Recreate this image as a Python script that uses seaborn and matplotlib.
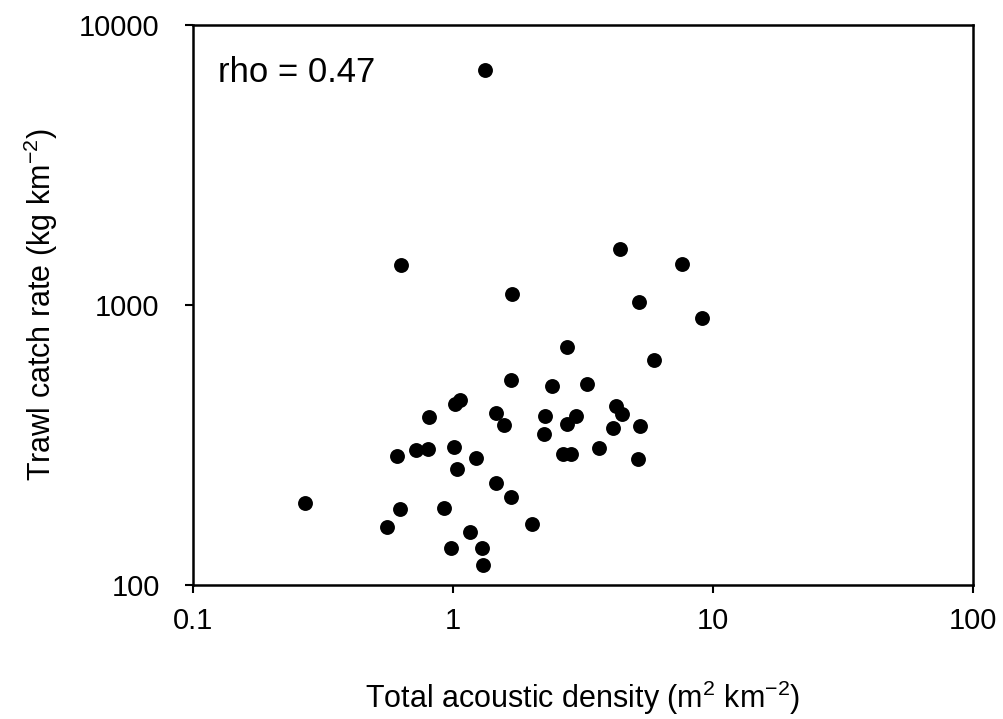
import matplotlib
matplotlib.use("Agg")
import matplotlib.pyplot as plt
import seaborn as sns
import pandas as pd
from matplotlib.ticker import FixedLocator, FixedFormatter, NullLocator

acoustic_density = [1.33, 0.63, 1.02, 1.06, 0.81, 1.46, 1.57, 0.61, 0.72, 0.80,
                     1.01, 1.23, 1.04, 1.47, 0.27, 0.625, 0.92, 0.56, 1.16, 0.985,
                     1.29, 1.30, 1.67, 2.01, 4.40, 7.62, 1.68, 5.18, 9.07, 2.75,
                     5.93, 1.67, 2.40, 3.28, 2.25, 2.98, 2.75, 4.22, 4.48, 2.24,
                     4.14, 5.24, 2.66, 2.84, 3.63, 5.16]
catch_rate = [6900, 1390, 443, 457, 398, 412, 373, 289, 303, 305,
              310, 285, 259, 232, 197, 187, 188, 161, 154, 136,
              136, 118, 207, 165, 1585, 1404, 1098, 1022, 901, 710,
              638, 538, 515, 524, 400, 401, 376, 437, 408, 346,
              364, 370, 294, 294, 309, 282]

x_ticks = [0.1, 1, 10, 100]
x_tick_labels = ["0.1", "1", "10", "100"]
y_ticks = [100, 1000, 10000]
y_tick_labels = ["100", "1000", "10000"]

df = pd.DataFrame({"x": acoustic_density, "y": catch_rate})

sns.set_theme(style="ticks")
plt.rcParams["font.family"] = ["Liberation Sans", "DejaVu Sans"]
plt.rcParams["mathtext.fontset"] = "custom"
plt.rcParams["mathtext.rm"] = "Liberation Sans"
plt.rcParams["mathtext.it"] = "Liberation Sans"
plt.rcParams["mathtext.bf"] = "Liberation Sans:bold"
plt.rcParams["text.color"] = "black"
plt.rcParams["axes.labelcolor"] = "black"

fig = plt.figure(figsize=(10.04, 7.19), dpi=100)
ax = fig.add_axes([0.1922, 0.1864, 0.7769, 0.7788])

sns.scatterplot(data=df, x="x", y="y", ax=ax, color="black", s=115,
                edgecolor="black", linewidth=0, legend=False)

ax.set_xscale("log")
ax.set_yscale("log")
ax.set_xlim(0.1, 100)
ax.set_ylim(100, 10000)
ax.xaxis.set_major_locator(FixedLocator(x_ticks))
ax.xaxis.set_major_formatter(FixedFormatter(x_tick_labels))
ax.yaxis.set_major_locator(FixedLocator(y_ticks))
ax.yaxis.set_major_formatter(FixedFormatter(y_tick_labels))
ax.xaxis.set_minor_locator(NullLocator())
ax.yaxis.set_minor_locator(NullLocator())

for sp in ax.spines.values():
    sp.set_visible(True)
    sp.set_color("black")
    sp.set_linewidth(1.8)

ax.tick_params(axis="both", which="major", direction="out", length=6, width=1.5,
               colors="black", labelsize=21)
ax.tick_params(axis="x", pad=10)
ax.tick_params(axis="y", pad=18)

ax.set_xlabel("Total acoustic density (m$^{2}$ km$^{\\mathrm{-2}}$)", fontsize=22,
              labelpad=31, color="black")
ax.set_ylabel("Trawl catch rate (kg km$^{\\mathrm{-2}}$)", fontsize=22,
              labelpad=14, color="black")

ax.text(0.032, 0.916, "rho = 0.47", transform=ax.transAxes, fontsize=25,
        ha="left", va="center", color="black")

fig.savefig("out.png", dpi=100)
